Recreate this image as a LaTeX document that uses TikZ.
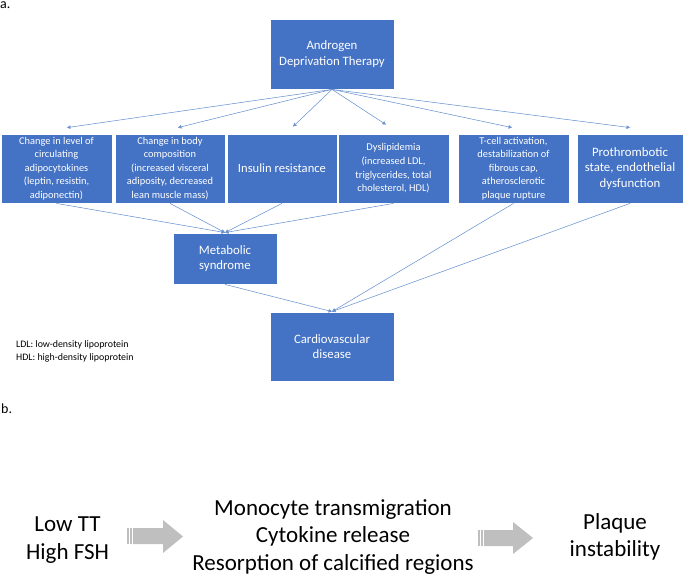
\documentclass[tikz,border=0pt]{standalone}
\usepackage{fontspec}
\setmainfont{Carlito}
\usepackage{tikz}
\usetikzlibrary{arrows.meta}
\definecolor{boxblue}{HTML}{4472C4}
\definecolor{lineblue}{HTML}{6A94D0}
\definecolor{arrgray}{HTML}{BFBFBF}

\begin{document}
\begin{tikzpicture}[x=1pt, y=-1pt,
    blk/.style={rectangle, draw=white, line width=0.8pt, fill=boxblue, text=white,
        align=center, inner sep=0pt},
    small/.style={font=\fontsize{10.4}{13.6}\selectfont},
    big/.style={font=\fontsize{12.8}{15.3}\selectfont},
    arr/.style={draw=lineblue, line width=0.55pt, -{Triangle[length=3.5pt, width=3.5pt]}},
    huge/.style={align=center, font=\fontsize{23}{27.5}\selectfont}]
    \useasboundingbox (0,0) rectangle (684,577);

    % Labels
    \node[anchor=base west, inner sep=0pt, font=\fontsize{14}{16}\selectfont] (la) at (0,9) {a.};
    \node[anchor=base west, inner sep=0pt, font=\fontsize{14}{16}\selectfont] (lb) at (1,413) {b.};

    % Nodes
    \node[blk, big, minimum width=124, minimum height=70] (adt) at (332,54) {Androgen\\Deprivation Therapy};
    \node[blk, small, minimum width=111, minimum height=69] (c1) at (56.5,168.5)
        {Change in level of\\circulating\\adipocytokines\\(leptin, resistin,\\adiponectin)};
    \node[blk, small, minimum width=110, minimum height=69] (c2) at (170,168.5)
        {Change in body\\composition\\(increased visceral\\adiposity, decreased\\lean muscle mass)};
    \node[blk, font=\fontsize{12.6}{14}\selectfont, minimum width=110, minimum height=69] (c3) at (282,168.5)
        {Insulin resistance};
    \node[blk, small, minimum width=111, minimum height=69] (c4) at (393.5,168.5)
        {Dyslipidemia\\(increased LDL,\\triglycerides, total\\cholesterol, HDL)};
    \node[blk, small, minimum width=111, minimum height=69] (c5) at (513.5,168.5)
        {T-cell activation,\\destabilization of\\fibrous cap,\\atherosclerotic\\plaque rupture};
    \node[blk, big, minimum width=106, minimum height=69] (c6) at (630,168.5)
        {Prothrombotic\\state, endothelial\\dysfunction};
    \node[blk, big, minimum width=104, minimum height=51] (ms) at (225,258.5) {Metabolic\\syndrome};
    \node[blk, big, minimum width=124, minimum height=69] (cvd) at (332,346.5) {Cardiovascular\\disease};

    \node[anchor=west, align=left, inner sep=0pt, font=\fontsize{9.9}{13.5}\selectfont] (abbr) at (16,351.5)
        {LDL: low-density lipoprotein\\HDL: high-density lipoprotein};

    % Lines
    \draw[arr] (adt.south) -- ([xshift=10.5pt, yshift=6pt]c1.north);
    \draw[arr] (adt.south) -- ([xshift=8pt, yshift=6pt]c2.north);
    \draw[arr] (adt.south) -- ([xshift=11pt, yshift=7pt]c3.north);
    \draw[arr] (adt.south) -- ([xshift=-7.5pt, yshift=9pt]c4.north);
    \draw[arr] (adt.south) -- ([xshift=-1.5pt, yshift=6pt]c5.north);
    \draw[arr] (adt.south) -- ([yshift=6pt]c6.north);

    \draw[arr] (c1.south) -- (ms.north);
    \draw[arr] (c2.south) -- (ms.north);
    \draw[arr] (c3.south) -- (ms.north);
    \draw[arr] (c4.south) -- (ms.north);
    \draw[arr] (ms.south) -- (cvd.north);
    \draw[arr] (c5.south) -- (cvd.north);
    \draw[arr] (c6.south) -- (cvd.north);

    % Part b
    \node[huge] (tt) at (67.5,540) {Low TT\\High FSH};
    \node[huge] (mono) at (333,537) {Monocyte transmigration\\Cytokine release\\Resorption of calcified regions};
    \node[huge] (plq) at (615,537) {Plaque\\instability};

    \fill[arrgray] (127,528) rectangle (128.5,544);
    \fill[arrgray] (130,528) rectangle (131.5,544);
    \fill[arrgray] (133,528) -- (163,528) -- (163,520) -- (183,536.5) -- (163,553) -- (163,544) -- (133,544) -- cycle;
    \fill[arrgray] (478,530) rectangle (479.5,546);
    \fill[arrgray] (481,530) rectangle (482.5,546);
    \fill[arrgray] (484,530) -- (513,530) -- (513,522) -- (533,538) -- (513,554) -- (513,546) -- (484,546) -- cycle;
\end{tikzpicture}
\end{document}
